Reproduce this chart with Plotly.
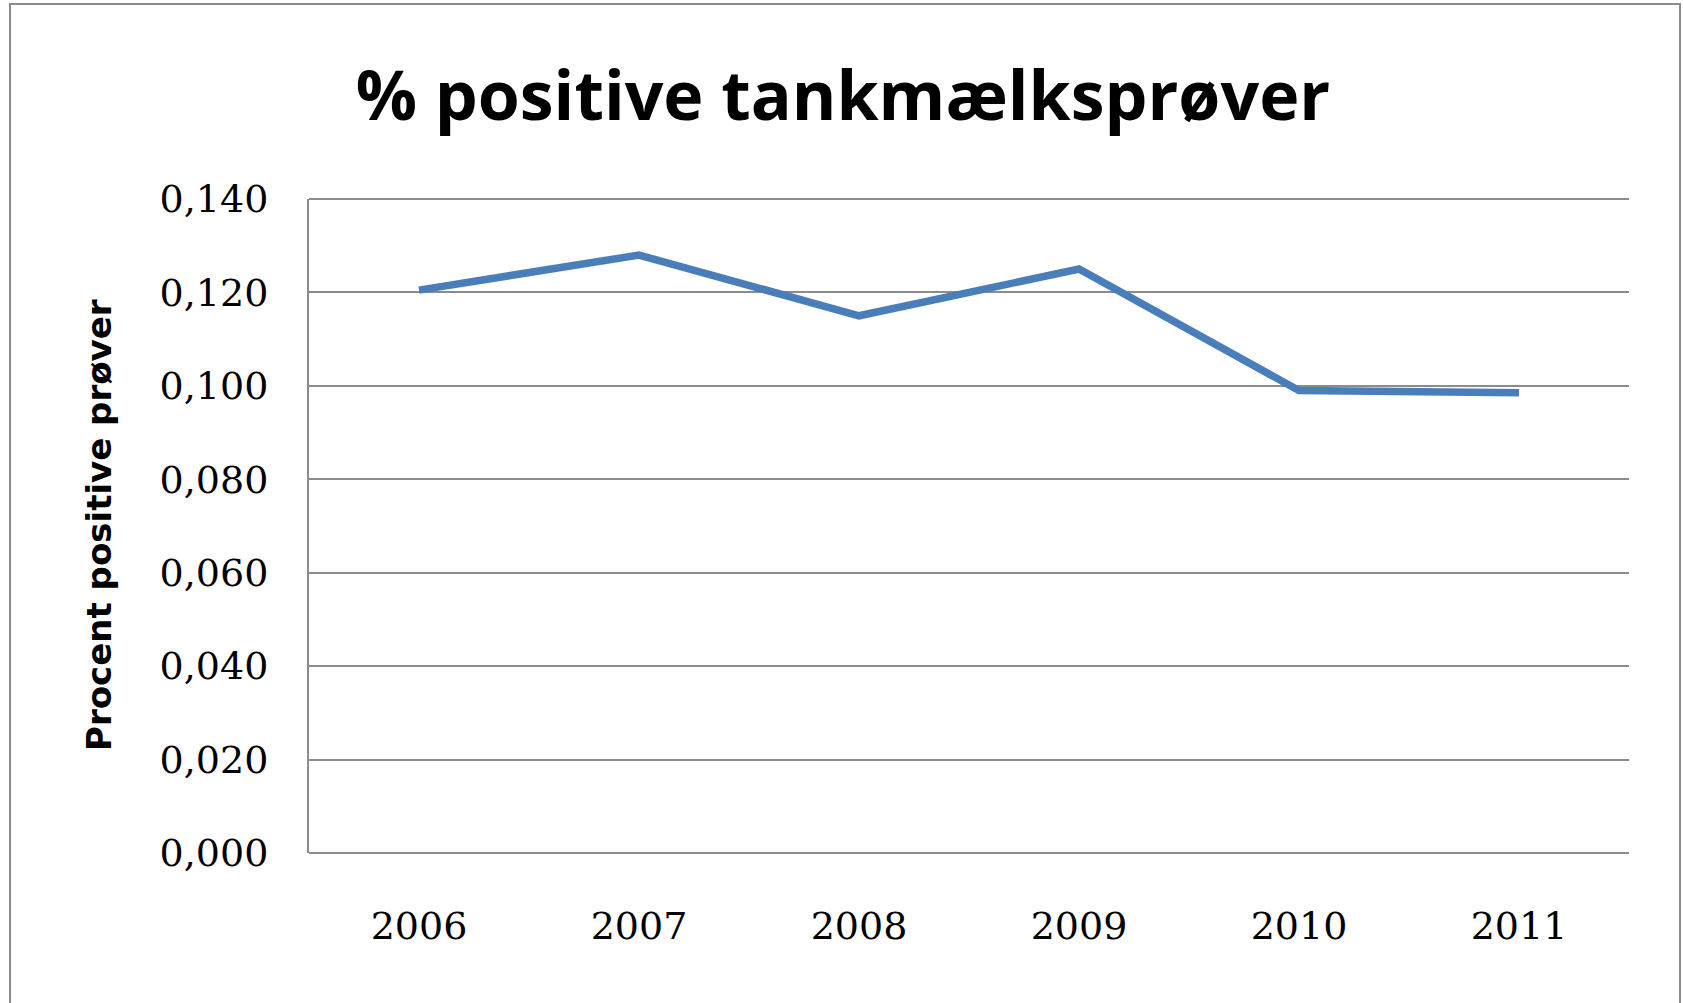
import plotly.graph_objects as go

years = ["2006", "2007", "2008", "2009", "2010", "2011"]
values = [0.1205, 0.128, 0.115, 0.125, 0.099, 0.0985]
y_ticks = [0.0, 0.02, 0.04, 0.06, 0.08, 0.10, 0.12, 0.14]
y_tick_labels = ["0,000", "0,020", "0,040", "0,060", "0,080", "0,100", "0,120", "0,140"]

W, H = 1683, 1003
L, R, T, B = 309, 54, 199, 150
pw, ph = W - L - R, H - T - B

def px_x(x):
    return (x - L) / pw

def px_y(y):
    return (H - B - y) / ph

fig = go.Figure()
fig.add_trace(go.Scatter(
    x=years, y=values, mode="lines",
    line=dict(color="#4a7ebb", width=7.5),
    showlegend=False, hoverinfo="skip",
))

grey = "#8c8c8c"
fig.update_layout(
    width=W, height=H,
    margin=dict(l=L, r=R, t=T, b=B),
    paper_bgcolor="white", plot_bgcolor="white",
    title=dict(
        text="<b>% positive tankmælksprøver</b>",
        x=843 / W, xanchor="center", xref="container",
        y=1 - 96 / H, yanchor="middle", yref="container",
        font=dict(family="Open Sans", size=68, color="black"),
    ),
    xaxis=dict(
        type="category", range=[-0.5, 5.5],
        showgrid=False, showline=False, zeroline=False,
        ticks="", ticklabelstandoff=47,
        tickfont=dict(family="DejaVu Serif", size=38, color="#000000"),
    ),
    yaxis=dict(
        range=[0, 0.14], tickvals=y_ticks, ticktext=y_tick_labels,
        showgrid=True, gridcolor=grey, gridwidth=2,
        showline=True, linecolor=grey, linewidth=2,
        zeroline=False, ticks="", ticklabelstandoff=31,
        tickfont=dict(family="DejaVu Serif", size=38, color="#000000"),
    ),
    shapes=[
        dict(type="rect", xref="paper", yref="paper",
             x0=px_x(10), x1=px_x(1680), y0=px_y(1015), y1=px_y(4),
             line=dict(color=grey, width=2), fillcolor="rgba(0,0,0,0)"),
        dict(type="line", xref="paper", yref="paper",
             x0=0, x1=1, y0=0, y1=0, line=dict(color=grey, width=2)),
        dict(type="line", xref="paper", yref="paper",
             x0=0, x1=1, y0=1, y1=1, line=dict(color=grey, width=2)),
    ],
    annotations=[
        dict(text="<b>Procent positive prøver</b>", textangle=-90,
             xref="paper", yref="paper", x=px_x(99), y=px_y(525),
             xanchor="center", yanchor="middle", showarrow=False,
             font=dict(family="DejaVu Sans", size=34, color="black")),
    ],
)

fig.write_html("out.html", config={"displayModeBar": False},
               post_script="document.body.style.margin='0px';")
